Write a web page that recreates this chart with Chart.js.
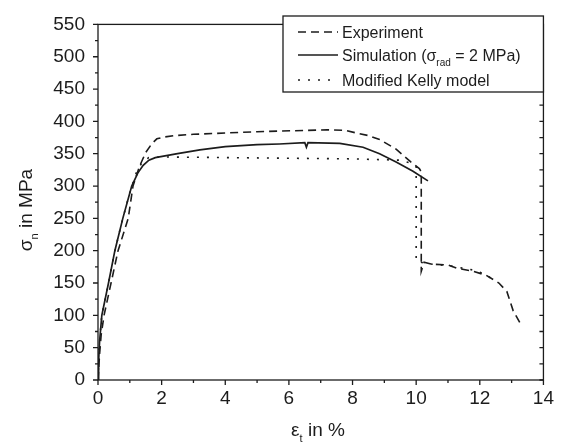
<!DOCTYPE html>
<html>
<head>
<meta charset="utf-8">
<script src="https://cdn.jsdelivr.net/npm/chart.js@4/dist/chart.umd.min.js"></script>
<style>
  html, body { margin: 0; padding: 0; background: #fff; }
  #wrap { width: 561px; height: 445px; position: relative; }
</style>
</head>
<body>
<div id="wrap"><canvas id="chart"></canvas></div>
<script>
// tensile curves: strain eps_t in %, normal stress sigma_n in MPa
const experimentStrain = [0, 0.05, 0.1, 0.19, 0.41, 0.63, 0.95, 1.1, 1.3, 1.5, 1.7, 1.85, 2.1, 2.4, 3, 4, 5, 5.7, 6.5, 7.2, 7.8, 8.12, 8.5, 8.85, 9.37, 9.84, 10.1, 10.16, 10.16, 10.25, 10.5, 11, 11.27, 11.8, 12.2, 12.6, 12.85, 13.05, 13.3]
const experimentStress = [0, 40, 70, 100, 150, 200, 250, 300, 330, 352, 366, 373, 376, 378, 380, 382, 384, 385, 386, 387, 386, 382, 378, 372, 357, 337, 327, 322, 168, 182, 179, 178, 173, 168, 162, 150, 137, 107, 85]

const simulationStrain = [0, 0.02, 0.05, 0.12, 0.33, 0.53, 0.78, 1.06, 1.25, 1.42, 1.6, 1.8, 2.5, 3.2, 4, 5, 5.7, 6.5, 6.55, 6.6, 7.6, 8.33, 8.85, 9.37, 9.9, 10.37]
const simulationStress = [0, 30, 60, 100, 150, 200, 250, 300, 320, 332, 340, 344, 350, 356, 361, 364, 365, 367, 360, 367, 366, 360, 350, 337, 323, 308]

const kellyStrain = [0, 0.02, 0.05, 0.12, 0.33, 0.53, 0.78, 1.0, 1.2, 1.4, 1.6, 2, 4, 6, 8, 9.5, 9.85, 10.0, 10.0, 10.3, 11, 11.8, 12.2, 12.5]
const kellyStress = [0, 30, 60, 100, 150, 200, 250, 290, 320, 338, 344, 345, 344, 343, 342, 340, 335, 330, 184, 180, 177, 170, 163, 152]

const strainTicks = [0, 2, 4, 6, 8, 10, 12, 14]
const stressTicks = [0, 50, 100, 150, 200, 250, 300, 350, 400, 450, 500, 550]
const strainMinorStep = 1
const stressMinorStep = 25

// legend entries as [text, isSubscript] runs
const legendLabels = [
  [['Experiment', false]],
  [['Simulation (\u03c3', false], ['rad', true], [' = 2 MPa)', false]],
  [['Modified Kelly model', false]],
]
const xTitle = [['\u03b5', false], ['t', true], [' in %', false]]
const yTitle = [['\u03c3', false], ['n', true], [' in MPa', false]]

const INK = '#1c1c1c'
const FONT = '"Liberation Sans", Arial, Helvetica, sans-serif'

const toPoints = (xs, ys) => xs.map((x, i) => ({ x, y: ys[i] }))

// draws text with lowered subscript runs, returns total width
function drawRuns(ctx, runs, x, y, size, align) {
  const subSize = Math.round(size * 0.6)
  const fontOf = sub => `${sub ? subSize : size}px ${FONT}`
  const widths = runs.map(([t, sub]) => { ctx.font = fontOf(sub); return ctx.measureText(t).width })
  const total = widths.reduce((a, b) => a + b, 0)
  let cx = align === 'center' ? x - total / 2 : x
  ctx.textAlign = 'left'
  ctx.textBaseline = 'alphabetic'
  runs.forEach(([t, sub], i) => {
    ctx.font = fontOf(sub)
    ctx.fillText(t, cx, sub ? y + size * 0.3 : y)
    cx += widths[i]
  })
  return total
}

const framePlugin = {
  id: 'frame',
  afterDatasetsDraw(chart) {
    const { ctx, chartArea: a, scales: { x, y } } = chart
    ctx.save()
    ctx.strokeStyle = INK
    ctx.lineWidth = 1.3
    ctx.strokeRect(a.left, a.top, a.right - a.left, a.bottom - a.top)
    ctx.beginPath()
    for (let v = x.min; v <= x.max + 1e-9; v += strainMinorStep) {
      const px = x.getPixelForValue(v)
      const len = strainTicks.includes(v) ? 5 : 3
      ctx.moveTo(px, a.bottom)
      ctx.lineTo(px, a.bottom + len)
    }
    for (let v = y.min; v <= y.max + 1e-9; v += stressMinorStep) {
      const py = y.getPixelForValue(v)
      const len = stressTicks.includes(v) ? 5 : 3
      ctx.moveTo(a.left - len, py)
      ctx.lineTo(a.left, py)
      ctx.moveTo(a.right - 4, py)
      ctx.lineTo(a.right, py)
    }
    ctx.stroke()
    ctx.restore()
  },
  afterDraw(chart) {
    const { ctx } = chart
    ctx.save()
    ctx.fillStyle = INK
    drawRuns(ctx, xTitle, 318, 436, 19, 'center')
    ctx.translate(32, 210)
    ctx.rotate(-Math.PI / 2)
    drawRuns(ctx, yTitle, 0, 0, 19, 'center')
    ctx.restore()

    // legend box in the upper right corner
    const box = { left: 283, top: 16, right: chart.chartArea.right, bottom: 92 }
    ctx.save()
    ctx.fillStyle = '#fff'
    ctx.fillRect(box.left, box.top, box.right - box.left, box.bottom - box.top)
    ctx.strokeStyle = INK
    ctx.lineWidth = 1.3
    ctx.strokeRect(box.left, box.top, box.right - box.left, box.bottom - box.top)
    const rows = [32, 55, 80]
    chart.data.datasets.forEach((ds, i) => {
      const ry = rows[i]
      ctx.strokeStyle = ds.borderColor
      ctx.lineWidth = ds.borderWidth
      ctx.setLineDash(ds.borderDash || [])
      ctx.beginPath()
      ctx.moveTo(298, ry)
      ctx.lineTo(338, ry)
      ctx.stroke()
      ctx.setLineDash([])
      ctx.fillStyle = INK
      drawRuns(ctx, legendLabels[i], 342, ry + 6, 16, 'left')
    })
    ctx.restore()
  },
}

new Chart(document.getElementById('chart'), {
  type: 'line',
  data: {
    datasets: [
      {
        label: 'Experiment',
        data: toPoints(experimentStrain, experimentStress),
        borderColor: INK,
        borderWidth: 1.6,
        borderDash: [8, 5],
      },
      {
        label: 'Simulation',
        data: toPoints(simulationStrain, simulationStress),
        borderColor: INK,
        borderWidth: 1.7,
      },
      {
        label: 'Modified Kelly model',
        data: toPoints(kellyStrain, kellyStress),
        borderColor: INK,
        borderWidth: 1.6,
        borderDash: [2, 8],
      },
    ],
  },
  options: {
    responsive: true,
    maintainAspectRatio: false,
    animation: false,
    layout: { padding: { left: 0, top: 16, right: 17, bottom: 0 } },
    elements: { point: { radius: 0 }, line: { tension: 0, fill: false } },
    plugins: { legend: { display: false }, tooltip: { enabled: false } },
    scales: {
      x: {
        type: 'linear',
        min: 0,
        max: 14,
        afterFit: s => { s.height = 65 },
        afterBuildTicks: s => { s.ticks = strainTicks.map(value => ({ value })) },
        grid: { display: false, drawTicks: false },
        border: { display: false },
        ticks: { color: INK, font: { family: FONT, size: 19 }, padding: 7, maxRotation: 0 },
      },
      y: {
        type: 'linear',
        min: 0,
        max: 550,
        afterFit: s => { s.width = 98 },
        afterBuildTicks: s => { s.ticks = stressTicks.map(value => ({ value })) },
        grid: { display: false, drawTicks: false },
        border: { display: false },
        ticks: { color: INK, font: { family: FONT, size: 19 }, padding: 13 },
      },
    },
  },
  plugins: [framePlugin],
})
</script>
</body>
</html>
